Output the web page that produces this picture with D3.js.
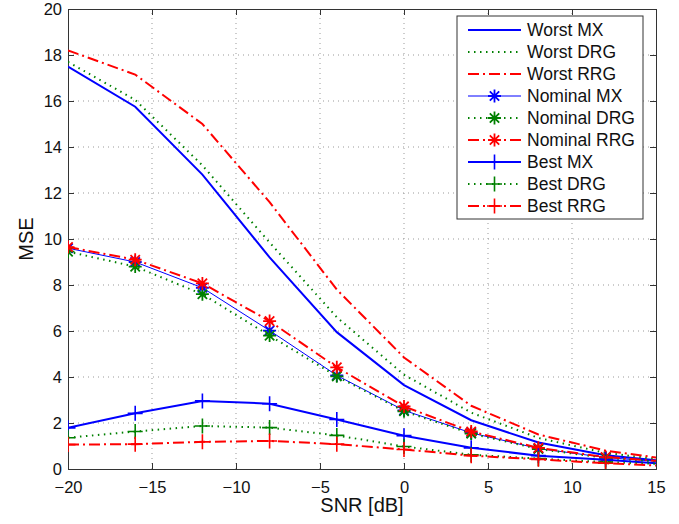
<!DOCTYPE html>
<html>
<head>
<meta charset="UTF-8">
<script src="https://d3js.org/d3.v7.min.js"></script>
<style>
  body { margin: 0; background: #fff; }
  svg { font-family: "Liberation Sans", Arial, sans-serif; }
</style>
</head>
<body>
<svg width="679" height="524"></svg>
<script>
// data (last point at 16 dB lies outside the axes and is clipped)
const snr = [-20, -16, -12, -8, -4, 0, 4, 8, 12, 16]
const worstMX  = [17.5, 15.75, 12.8, 9.2, 5.95, 3.65, 2.12, 1.15, 0.6, 0.3]
const worstDRG = [17.7, 16.05, 13.2, 9.85, 6.6, 4.1, 2.45, 1.35, 0.7, 0.35]
const worstRRG = [18.2, 17.15, 15.0, 11.6, 7.8, 4.85, 2.75, 1.5, 0.8, 0.4]
const nomMX  = [9.6, 9.0, 7.88, 6.02, 4.07, 2.55, 1.57, 0.89, 0.5, 0.28]
const nomDRG = [9.45, 8.8, 7.6, 5.8, 4.03, 2.51, 1.54, 0.87, 0.48, 0.27]
const nomRRG = [9.65, 9.1, 8.07, 6.43, 4.42, 2.72, 1.63, 0.92, 0.52, 0.3]
const bestMX  = [1.79, 2.42, 2.96, 2.84, 2.15, 1.45, 0.92, 0.58, 0.4, 0.2]
const bestDRG = [1.36, 1.63, 1.87, 1.8, 1.46, 0.98, 0.62, 0.45, 0.3, 0.2]
const bestRRG = [1.06, 1.08, 1.18, 1.22, 1.08, 0.85, 0.58, 0.42, 0.25, 0.12]
const xTicks = [-20, -15, -10, -5, 0, 5, 10, 15]
const yTicks = [0, 2, 4, 6, 8, 10, 12, 14, 16, 18, 20]

const blue = "#0000ff", green = "#008000", red = "#ff0000"
const dotted = "1.5,4.5", dashdot = "11,4,2,4"

const series = [
  {name: "Worst MX",    v: worstMX,  c: blue,  w: 2,   dash: null,    mk: null},
  {name: "Worst DRG",   v: worstDRG, c: green, w: 2,   dash: dotted,  mk: null},
  {name: "Worst RRG",   v: worstRRG, c: red,   w: 2,   dash: dashdot, mk: null},
  {name: "Nominal MX",  v: nomMX,    c: blue,  w: 1,   dash: null,    mk: "star"},
  {name: "Nominal DRG", v: nomDRG,   c: green, w: 2,   dash: dotted,  mk: "star"},
  {name: "Nominal RRG", v: nomRRG,   c: red,   w: 2,   dash: dashdot, mk: "star"},
  {name: "Best MX",     v: bestMX,   c: blue,  w: 2,   dash: null,    mk: "plus"},
  {name: "Best DRG",    v: bestDRG,  c: green, w: 2,   dash: dotted,  mk: "plus"},
  {name: "Best RRG",    v: bestRRG,  c: red,   w: 2,   dash: dashdot, mk: "plus"}
]

const m = {left: 68, right: 23, top: 9, bottom: 55}
const W = 679, H = 524
const svg = d3.select("svg")
const x = d3.scaleLinear().domain([-20, 15]).range([m.left, W - m.right])
const y = d3.scaleLinear().domain([0, 20]).range([H - m.bottom, m.top])

svg.append("defs").append("clipPath").attr("id", "clip")
  .append("rect").attr("x", m.left).attr("y", m.top)
  .attr("width", W - m.left - m.right).attr("height", H - m.top - m.bottom)

// grid
const grid = svg.append("g").attr("stroke", "#999").attr("stroke-width", 1).attr("stroke-dasharray", "1,4")
grid.selectAll(".gx").data(xTicks.slice(1, -1)).enter().append("line")
  .attr("x1", d => x(d)).attr("x2", d => x(d)).attr("y1", y(0)).attr("y2", y(20))
grid.selectAll(".gy").data(yTicks.slice(1, -1)).enter().append("line")
  .attr("y1", d => y(d)).attr("y2", d => y(d)).attr("x1", x(-20)).attr("x2", x(15))

// axes, MATLAB style ticks inward on all four sides
const tk = 6
svg.append("g").attr("transform", `translate(0,${y(0)})`)
  .call(d3.axisBottom(x).tickValues(xTicks).tickSize(-tk).tickPadding(12).tickFormat(d => String(d).replace("-", "\u2212")))
svg.append("g").attr("transform", `translate(0,${y(20)})`)
  .call(d3.axisTop(x).tickValues(xTicks).tickSize(-tk).tickFormat(""))
svg.append("g").attr("transform", `translate(${x(-20)},0)`)
  .call(d3.axisLeft(y).tickValues(yTicks).tickSize(-tk).tickPadding(6))
svg.append("g").attr("transform", `translate(${x(15)},0)`)
  .call(d3.axisRight(y).tickValues(yTicks).tickSize(-tk).tickFormat(""))
svg.selectAll(".domain").attr("stroke", "#333")
svg.selectAll(".tick line").attr("stroke", "#333")
svg.selectAll(".tick text").attr("font-size", 16.5).attr("fill", "#111")
  .attr("font-family", "Liberation Sans, Arial, sans-serif")

svg.append("text").attr("x", x(-2.5)).attr("y", 512).attr("text-anchor", "middle")
  .attr("font-size", 20).attr("fill", "#111").text("SNR [dB]")
svg.append("text").attr("transform", `translate(33,${y(10)}) rotate(-90)`)
  .attr("text-anchor", "middle").attr("font-size", 20).attr("fill", "#111").text("MSE")

function marker(g, kind, cx, cy, c) {
  const r = kind === "star" ? 6.5 : 7.5
  let d = `M${cx - r},${cy}H${cx + r}M${cx},${cy - r}V${cy + r}`
  if (kind === "star") {
    const s = r * 0.72
    d += `M${cx - s},${cy - s}L${cx + s},${cy + s}M${cx - s},${cy + s}L${cx + s},${cy - s}`
  }
  g.append("path").attr("d", d).attr("stroke", c).attr("stroke-width", kind === "star" ? 1.8 : 1.6).attr("fill", "none")
}

const line = d3.line().x((d, i) => x(snr[i])).y(d => y(d))
const plot = svg.append("g").attr("clip-path", "url(#clip)")
series.forEach(s => {
  plot.append("path").datum(s.v).attr("d", line).attr("fill", "none")
    .attr("stroke", s.c).attr("stroke-width", s.w).attr("stroke-dasharray", s.dash)
  if (s.mk) s.v.forEach((v, i) => marker(plot, s.mk, x(snr[i]), y(v), s.c))
})

// legend
const lg = svg.append("g")
lg.append("rect").attr("x", 457).attr("y", 16).attr("width", 186).attr("height", 203)
  .attr("fill", "#fff").attr("stroke", "#333").attr("stroke-width", 1)
series.forEach((s, i) => {
  const ly = 30 + i * 22
  lg.append("line").attr("x1", 468).attr("x2", 521).attr("y1", ly).attr("y2", ly)
    .attr("stroke", s.c).attr("stroke-width", s.w).attr("stroke-dasharray", s.dash)
  if (s.mk) marker(lg, s.mk, 494.5, ly, s.c)
  lg.append("text").attr("x", 527).attr("y", ly).attr("dy", "0.35em")
    .attr("font-size", 17.5).attr("fill", "#111").text(s.name)
})
</script>
</body>
</html>
